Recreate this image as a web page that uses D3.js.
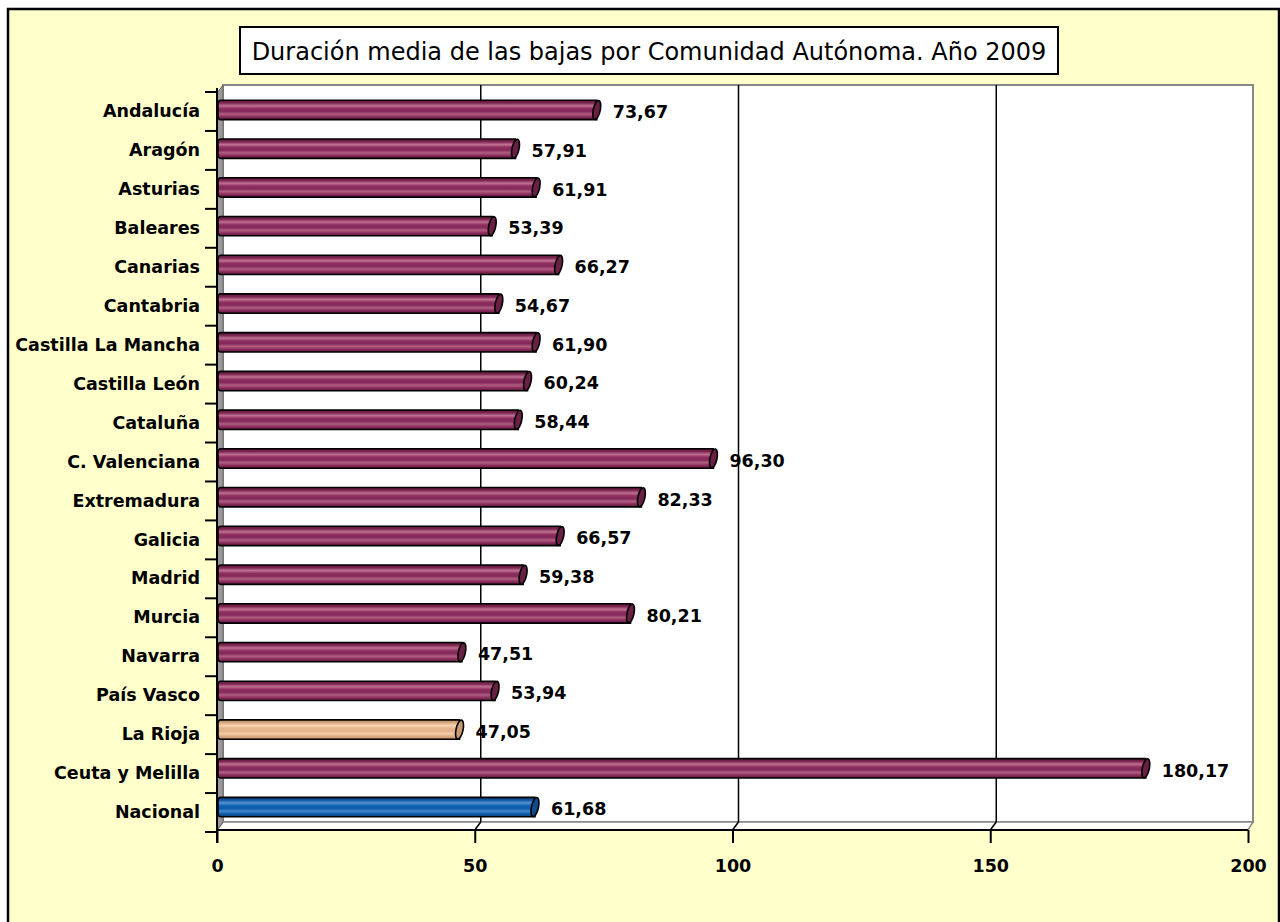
<!DOCTYPE html>
<html><head><meta charset="utf-8">
<script src="https://cdn.jsdelivr.net/npm/d3@7"></script>
<style>
html,body{margin:0;padding:0;background:#fff;}
svg{display:block;font-family:"DejaVu Sans",sans-serif;}
</style></head>
<body>
<svg id="chart" width="1280" height="922"></svg>
<script>
const categories = ["Andalucía","Aragón","Asturias","Baleares","Canarias","Cantabria","Castilla La Mancha","Castilla León","Cataluña","C. Valenciana","Extremadura","Galicia","Madrid","Murcia","Navarra","País Vasco","La Rioja","Ceuta y Melilla","Nacional"];
const values = [73.67,57.91,61.91,53.39,66.27,54.67,61.90,60.24,58.44,96.30,82.33,66.57,59.38,80.21,47.51,53.94,47.05,180.17,61.68];
const valueLabels = ["73,67","57,91","61,91","53,39","66,27","54,67","61,90","60,24","58,44","96,30","82,33","66,57","59,38","80,21","47,51","53,94","47,05","180,17","61,68"];
const xTicks = [0,50,100,150,200];
const title = "Duración media de las bajas por Comunidad Autónoma. Año 2009";
const palette = {default:"maroon", "La Rioja":"tan", "Nacional":"blue"};

const FONT = "'DejaVu Sans',sans-serif";
const svg = d3.select("#chart");
const dx = 6, dy = 8; // 3D depth offset

// outer frame
svg.append("rect").attr("x",8).attr("y",9).attr("width",1271).attr("height",940)
  .attr("fill","#FFFFCC").attr("stroke","#000").attr("stroke-width",2.5);

const x = d3.scaleLinear().domain([0,200]).range([217,1248]);
// bar positions (front plane of 3D series) and category band positions
const yBar = d3.scaleBand().domain(categories).range([90.6,826.4]).paddingInner(0.50).paddingOuter(0.25);
const yb = d3.scaleBand().domain(categories).range([92,832]);

// gradients
const defs = svg.append("defs");
const grads = {
  maroon:["#5a1838","#7e2652","#c07092","#8e2f5f","#83295a","#b05e80","#8a2c5c","#5a1838"],
  tan:["#b08460","#d9a87c","#f5d4b4","#e8b890","#e3b188","#f2cca8","#dcac80","#b08460"],
  blue:["#0b3f7a","#0f56a3","#5595d4","#1262b4","#0f5aa8","#4288cc","#0f58a6","#0b3f7a"]
};
const caps = {maroon:"#6a1f45", tan:"#c89a72", blue:"#0d4c8f"};
Object.entries(grads).forEach(([k,stops])=>{
  const g = defs.append("linearGradient").attr("id","g-"+k).attr("x1",0).attr("y1",0).attr("x2",0).attr("y2",1);
  stops.forEach((c,i)=>g.append("stop").attr("offset",(i/(stops.length-1)*100)+"%").attr("stop-color",c));
});

const wallBottom = 830 - dy;
// back wall
svg.append("rect").attr("x",x(0)+dx).attr("y",85).attr("width",x(200)+dx-(x(0)+dx)-1).attr("height",wallBottom-85)
  .attr("fill","#fff").attr("stroke","#888").attr("stroke-width",2);
// floor
svg.append("polygon").attr("points",`${x(0)},830 ${x(0)+dx},${wallBottom} ${x(200)+dx-1},${wallBottom} ${x(200)},830`)
  .attr("fill","#fff").attr("stroke","#888").attr("stroke-width",1.5);
// left wall
svg.append("polygon").attr("points",`${x(0)},93 ${x(0)+dx},85 ${x(0)+dx},${wallBottom} ${x(0)},830`)
  .attr("fill","#9a9a9a").attr("stroke","#666").attr("stroke-width",1);

// gridlines on back wall
xTicks.slice(1,-1).forEach(t=>{
  svg.append("line").attr("x1",x(t)+dx).attr("x2",x(t)+dx).attr("y1",85).attr("y2",wallBottom)
    .attr("stroke","#000").attr("stroke-width",1.5);
  svg.append("line").attr("x1",x(t)).attr("x2",x(t)+dx).attr("y1",830).attr("y2",wallBottom)
    .attr("stroke","#000").attr("stroke-width",1.5);
});

// bars
const bars = svg.append("g");
categories.forEach((c,i)=>{
  const key = palette[c] || palette.default;
  const y0 = yBar(c), h = yBar.bandwidth();
  const x0 = x(0)+1, x1 = x(values[i]);
  const r = 3;
  bars.append("path")
    .attr("d",`M${x0+r},${y0} L${x1},${y0} L${x1},${y0+h} L${x0+r},${y0+h} Q${x0},${y0+h} ${x0},${y0+h-r} L${x0},${y0+r} Q${x0},${y0} ${x0+r},${y0} Z`)
    .attr("fill",`url(#g-${key})`).attr("stroke","#000").attr("stroke-width",1.6);
  bars.append("ellipse").attr("cx",x1).attr("cy",y0+h/2).attr("rx",3.5).attr("ry",h/2)
    .attr("transform",`rotate(12 ${x1} ${y0+h/2})`)
    .attr("fill",caps[key]).attr("stroke","#000").attr("stroke-width",1.6);
  svg.append("text").attr("x",x1+16).attr("y",y0+h/2+2).attr("dy","0.36em")
    .attr("font-size",17.5).attr("font-weight","bold").attr("fill","#000").text(valueLabels[i]);
});

// axes
svg.append("line").attr("x1",x(0)).attr("x2",x(0)).attr("y1",88).attr("y2",843).attr("stroke","#000").attr("stroke-width",2);
svg.append("line").attr("x1",x(0)).attr("x2",x(200)).attr("y1",830).attr("y2",830).attr("stroke","#000").attr("stroke-width",2);

const xAxis = d3.axisBottom(x).tickValues(xTicks).tickSize(13).tickPadding(17).tickFormat(d3.format("d"));
const gx = svg.append("g").attr("transform","translate(0,830)").call(xAxis);
gx.select(".domain").remove();
gx.selectAll("line").attr("stroke","#000").attr("stroke-width",2);
gx.selectAll("text").attr("font-size",17.5).attr("font-weight","bold").attr("fill","#000")
  .attr("font-family",FONT);

// category ticks at band boundaries
categories.forEach((c,i)=>{
  const yy = yb(c);
  svg.append("line").attr("x1",205).attr("x2",x(0)).attr("y1",yy).attr("y2",yy).attr("stroke","#000").attr("stroke-width",2);
});
svg.append("line").attr("x1",205).attr("x2",x(0)).attr("y1",yb.range()[1]).attr("y2",yb.range()[1]).attr("stroke","#000").attr("stroke-width",2);

const yAxis = d3.axisLeft(yb).tickSize(0).tickPadding(17);
const gy = svg.append("g").attr("transform",`translate(${x(0)},0)`).call(yAxis);
gy.select(".domain").remove();
gy.selectAll("text").attr("font-size",17.5).attr("font-weight","bold").attr("fill","#000")
  .attr("font-family",FONT);

// title
svg.append("rect").attr("x",240).attr("y",27).attr("width",818).attr("height",47)
  .attr("fill","#fff").attr("stroke","#000").attr("stroke-width",2);
svg.append("text").attr("x",649).attr("y",51).attr("dy","0.36em").attr("text-anchor","middle")
  .attr("font-size",24).attr("fill","#000").text(title);
</script>
</body></html>
